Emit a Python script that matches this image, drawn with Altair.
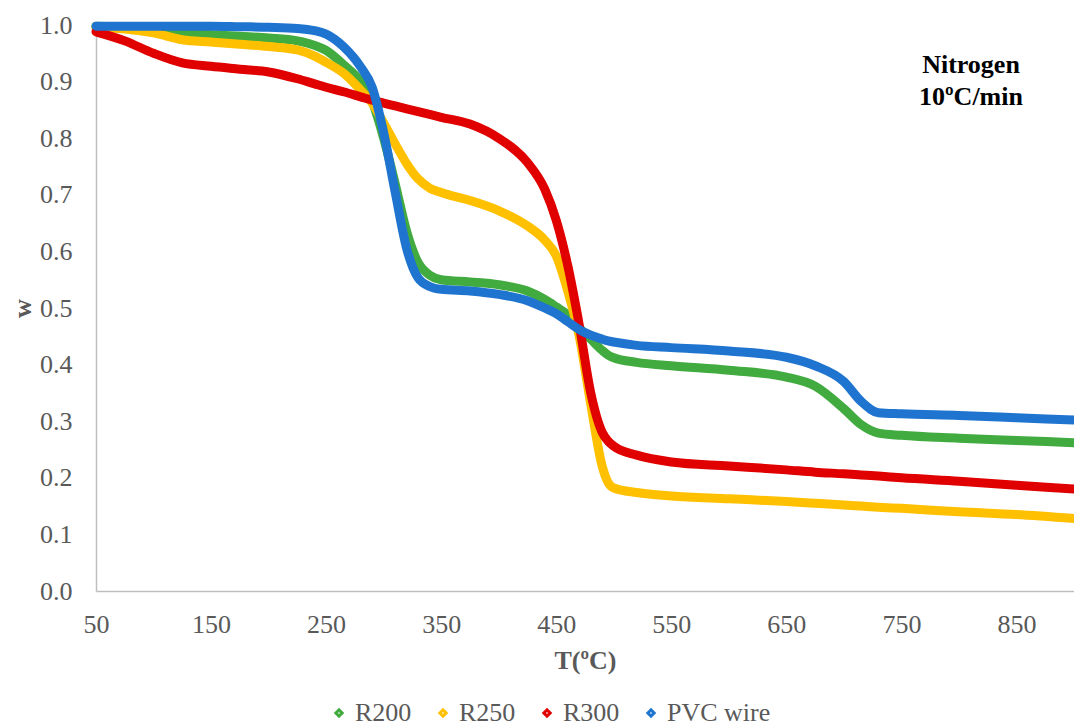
import altair as alt
import pandas as pd

# Temperature grid (°C)
T = [50, 75, 100, 125, 150, 175, 200, 225, 240, 250, 265, 280, 290, 300, 310, 320, 330, 340, 350,
     375, 400, 425, 440, 450, 460, 470, 480, 490, 495, 500, 520, 550, 600, 650, 675, 700, 715,
     730, 750, 800, 850, 900]

R200 = [0.998, 0.996, 0.992, 0.986, 0.983, 0.980, 0.977, 0.972, 0.964, 0.955, 0.930, 0.900, 0.865,
        0.800, 0.720, 0.635, 0.580, 0.558, 0.550, 0.546, 0.541, 0.530, 0.515, 0.502, 0.488,
        0.465, 0.445, 0.425, 0.417, 0.412, 0.404, 0.398, 0.390, 0.378, 0.362, 0.322, 0.294,
        0.279, 0.275, 0.270, 0.266, 0.262]

R250 = [0.995, 0.993, 0.986, 0.974, 0.970, 0.966, 0.962, 0.956, 0.945, 0.934, 0.915, 0.885, 0.862,
        0.827, 0.790, 0.755, 0.728, 0.712, 0.704, 0.690, 0.672, 0.645, 0.620, 0.592, 0.530,
        0.450, 0.330, 0.220, 0.192, 0.182, 0.174, 0.168, 0.163, 0.158, 0.155, 0.152, 0.150,
        0.148, 0.146, 0.140, 0.135, 0.128]

R300 = [0.988, 0.972, 0.950, 0.933, 0.927, 0.922, 0.917, 0.905, 0.896, 0.890, 0.882, 0.873, 0.867,
        0.862, 0.857, 0.852, 0.847, 0.842, 0.837, 0.825, 0.800, 0.757, 0.710, 0.655, 0.575,
        0.470, 0.350, 0.280, 0.265, 0.256, 0.240, 0.228, 0.221, 0.214, 0.210, 0.207, 0.205,
        0.203, 0.200, 0.194, 0.187, 0.180]

PVC = [0.998, 0.998, 0.998, 0.998, 0.998, 0.997, 0.996, 0.994, 0.990, 0.984, 0.962, 0.926, 0.890,
       0.810, 0.705, 0.605, 0.553, 0.538, 0.533, 0.530, 0.524, 0.513, 0.500, 0.490, 0.476,
       0.462, 0.452, 0.445, 0.442, 0.440, 0.434, 0.430, 0.424, 0.413, 0.398, 0.370, 0.335,
       0.315, 0.313, 0.310, 0.306, 0.302]

series_names = ["R200", "R250", "R300", "PVC wire"]
series_values = [R200, R250, R300, PVC]
colors = ["#41ab3f", "#ffc000", "#e00000", "#1f74cf"]

x_ticks = [50, 150, 250, 350, 450, 550, 650, 750, 850]
y_ticks = [0.0, 0.1, 0.2, 0.3, 0.4, 0.5, 0.6, 0.7, 0.8, 0.9, 1.0]

rows = []
for name, vals in zip(series_names, series_values):
    for t, v in zip(T, vals):
        rows.append({"T": t, "w": v, "series": name})
df = pd.DataFrame(rows)

FONT = "Liberation Serif"
GREY = "#595959"

color = alt.Color(
    "series:N",
    scale=alt.Scale(domain=series_names, range=colors),
    legend=alt.Legend(
        title=None, orient="none", direction="horizontal",
        legendX=230, legendY=675,
        symbolType="diamond", symbolSize=40, symbolStrokeWidth=3,
        labelFont=FONT, labelFontSize=26, labelColor=GREY,
        columnPadding=18, labelOffset=3, padding=0,
    ),
)

xenc = alt.X(
    "T:Q",
    scale=alt.Scale(domain=[50, 900], nice=False, zero=False),
    axis=alt.Axis(values=x_ticks, title="T(ºC)", ticks=False, grid=False,
                  labelFont=FONT, labelFontSize=26, labelColor=GREY,
                  labelPadding=20, titleFont=FONT, titleFontSize=26,
                  titleFontWeight="bold", titleColor=GREY, titlePadding=10,
                  domainColor="#bfbfbf", domainWidth=1.5, labelFlush=False),
)
yenc = alt.Y(
    "w:Q",
    scale=alt.Scale(domain=[0, 1], nice=False),
    axis=alt.Axis(values=y_ticks, format=".1f", title="w", ticks=False, grid=False,
                  labelFont=FONT, labelFontSize=26, labelColor=GREY,
                  labelPadding=24, titleFont=FONT, titleFontSize=26,
                  titleFontWeight="bold", titleColor=GREY, titlePadding=4,
                  domainColor="#bfbfbf", domainWidth=1.5),
)

base = alt.Chart(df).mark_line(strokeWidth=9, interpolate="monotone",
                               strokeCap="round", strokeJoin="round").encode(
    x=xenc, y=yenc, color=color, order="T:Q"
)

layers = [base.transform_filter(alt.datum.series == s) for s in series_names]

ann1 = alt.Chart(pd.DataFrame({"t": ["Nitrogen"]})).mark_text(
    font=FONT, fontSize=26, fontWeight="bold", color="black", align="center",
    baseline="alphabetic").encode(text="t:N", x=alt.value(875), y=alt.value(48))
ann2 = alt.Chart(pd.DataFrame({"t": ["10ºC/min"]})).mark_text(
    font=FONT, fontSize=26, fontWeight="bold", color="black", align="center",
    baseline="alphabetic").encode(text="t:N", x=alt.value(875), y=alt.value(80))

chart = alt.layer(*layers, ann1, ann2).properties(
    width=978, height=566,
    autosize=alt.AutoSizeParams(type="none"),
    padding={"left": 88, "top": 17, "right": 0, "bottom": 137},
).configure(font=FONT).configure_view(stroke=None).configure_axis(
    labelFont=FONT, titleFont=FONT
).configure_legend(labelFont=FONT)

chart.save("out.html", embed_options={"renderer": "svg", "actions": False})
